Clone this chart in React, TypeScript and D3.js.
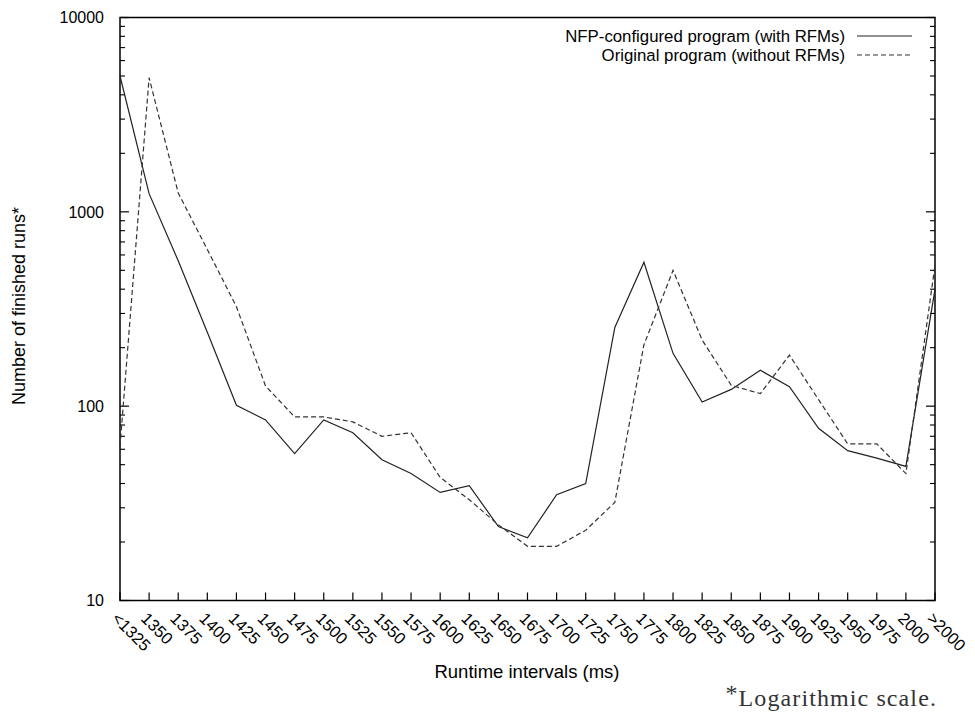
import React from "react";
import * as d3 from "d3";

const categories = ["<1325","1350","1375","1400","1425","1450","1475","1500","1525","1550","1575","1600","1625","1650","1675","1700","1725","1750","1775","1800","1825","1850","1875","1900","1925","1950","1975","2000",">2000"];
const nfpValues = [5000,1240,560,240,101,85,57,85,73,53,45,36,39,24,21,35,40,254,550,187,105,122,153,126,77,59,54,49,400];
const originalValues = [62,4900,1250,640,325,127,88,88,83,70,73,43,33,24.5,19,19,23,32,207,500,219,128,116,183,108,64,64,45,530];
const yTicks = [10,100,1000,10000];
const legendLabels = ["NFP-configured program (with RFMs)", "Original program (without RFMs)"];

const W = 975, H = 713;
const left = 120, right = 935, top = 17.5, bottom = 600.5;
const sans = "'Liberation Sans', Arial, Helvetica, sans-serif";

export default function App() {
  const x = d3.scalePoint<string>().domain(categories).range([left, right]);
  const y = d3.scaleLog().domain([10, 10000]).range([bottom, top]);
  const line = d3.line<number>().x((_, i) => x(categories[i]) as number).y(d => y(d));
  const minor: number[] = [];
  for (let dec = 10; dec < 10000; dec *= 10) for (let k = 2; k <= 9; k++) minor.push(dec * k);

  return (
    <svg width={W} height={H} style={{ position: "absolute", left: 0, top: 0, background: "#fff" }} fontFamily={sans}>
      <rect x={0} y={0} width={W} height={H} fill="#fff" />
      {yTicks.map(t => (
        <g key={"y" + t}>
          <line x1={left} x2={left + 9} y1={y(t)} y2={y(t)} stroke="#000" strokeWidth={1.2} />
          <line x1={right} x2={right - 9} y1={y(t)} y2={y(t)} stroke="#000" strokeWidth={1.2} />
          <text x={104} y={y(t)} dy="0.36em" textAnchor="end" fontSize={16} fill="#000">{t}</text>
        </g>
      ))}
      {minor.map(t => (
        <g key={"m" + t}>
          <line x1={left} x2={left + 5} y1={y(t)} y2={y(t)} stroke="#000" strokeWidth={1.1} />
          <line x1={right} x2={right - 5} y1={y(t)} y2={y(t)} stroke="#000" strokeWidth={1.1} />
        </g>
      ))}
      {categories.map(c => (
        <g key={"x" + c}>
          <line x1={x(c)} x2={x(c)} y1={bottom} y2={bottom - 8} stroke="#000" strokeWidth={1.2} />
          <text transform={`translate(${(x(c) as number) - 9},${bottom + 19}) rotate(45)`} fontSize={16.5} fill="#000" textAnchor="start">{c}</text>
        </g>
      ))}
      <rect x={left} y={top} width={right - left} height={bottom - top} fill="none" stroke="#000" strokeWidth={1.5} />
      <path d={line(nfpValues) || ""} fill="none" stroke="#222" strokeWidth={1.2} />
      <path d={line(originalValues) || ""} fill="none" stroke="#333" strokeWidth={1.2} strokeDasharray="5,3" />
      <text x={845} y={36} dy="0.36em" textAnchor="end" fontSize={16.8} fill="#000">{legendLabels[0]}</text>
      <line x1={857} x2={912} y1={36} y2={36} stroke="#222" strokeWidth={1.2} />
      <text x={845} y={55} dy="0.36em" textAnchor="end" fontSize={16.8} fill="#000">{legendLabels[1]}</text>
      <line x1={857} x2={912} y1={55} y2={55} stroke="#333" strokeWidth={1.2} strokeDasharray="5,3" />
      <text x={527} y={678} textAnchor="middle" fontSize={18.5} fill="#000">Runtime intervals (ms)</text>
      <text transform={`translate(25,306) rotate(-90)`} textAnchor="middle" fontSize={18} fill="#000">Number of finished runs*</text>
      <text x={937} y={706} textAnchor="end" fontSize={24} letterSpacing={1.1} fontFamily="'Liberation Serif', 'DejaVu Serif', serif" fill="#333">
        <tspan dy={-5}>*</tspan><tspan dy={5}>Logarithmic scale.</tspan>
      </text>
    </svg>
  );
}
